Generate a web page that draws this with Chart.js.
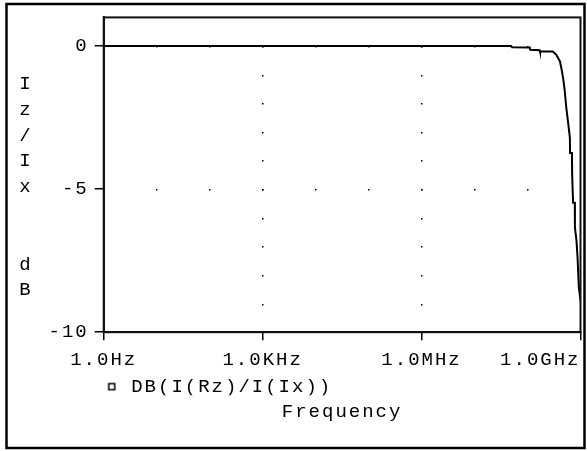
<!DOCTYPE html>
<html>
<head>
<meta charset="utf-8">
<script src="https://cdn.jsdelivr.net/npm/chart.js@4.4.1/dist/chart.umd.min.js"></script>
<style>
  html, body { margin: 0; padding: 0; background: #fff; overflow: hidden; }
  #wrap { position: relative; width: 587px; height: 451px; }
  #yTitle {
    position: absolute; left: 17px; top: 72px; width: 16px;
    font: 19px "Liberation Mono", monospace; line-height: 25.8px;
    text-align: center; white-space: pre; color: #000;
  }
</style>
</head>
<body>
<div id="wrap">
  <canvas id="bodeChart"></canvas>
  <div id="yTitle"></div>
</div>
<script>
// frequency (Hz) and DB(I(Rz)/I(Ix))
const freqHz = [1, 4.9e7, 5.1e7, 1.1e8, 1.12e8, 1.7e8, 1.72e8, 3.0e8, 3.5e8, 4.1e8, 4.4e8,
                4.7e8, 5.0e8, 5.4e8, 5.8e8, 6.3e8, 6.35e8, 6.9e8, 6.95e8, 7.2e8, 7.25e8,
                7.8e8, 7.85e8, 8.4e8, 8.8e8, 9.3e8, 1e9];
const dbValues = [0, 0, -0.04, -0.05, -0.13, -0.15, -0.19, -0.19, -0.31, -0.54, -0.82,
                  -1.12, -1.51, -2.16, -2.63, -3.2, -3.74, -3.74, -4.47, -4.47, -5.48,
                  -5.48, -6.35, -6.8, -7.4, -8.43, -8.9];

const xTickValues = [1, 1e3, 1e6, 1e9];
const xTickLabels = ["1.0Hz", "1.0KHz", "1.0MHz", "1.0GHz      "];
const yTickValues = [0, -5, -10];
const yTitleChars = ["I", "z", "/", "I", "x", "", "", "d", "B"];
const gridDecades = [10, 100, 1e3, 1e4, 1e5, 1e6, 1e7, 1e8];
const gridDb = [0, -1, -2, -3, -4, -5, -6, -7, -8, -9];

const FONT = "Liberation Mono";
document.getElementById("yTitle").textContent = yTitleChars.join("\n");

// little square used as the legend marker
const marker = document.createElement("canvas");
marker.width = 18;
marker.height = 9;
const mctx = marker.getContext("2d");
mctx.strokeStyle = "#000";
mctx.lineWidth = 1.5;
mctx.strokeRect(5, 1.5, 6, 6);

const spacing = {
    id: "spacing",
    beforeLayout(chart) { chart.ctx.letterSpacing = "2px"; },
    beforeDraw(chart) { chart.ctx.letterSpacing = "2px"; }
};

const frame = {
    id: "frame",
    beforeDatasetsDraw(chart) {
        const ctx = chart.ctx;
        const xs = chart.scales.x, ys = chart.scales.y;
        ctx.save();
        ctx.fillStyle = "#000";
        // dotted grid: decades along 0 and -5 dB, dB steps along 1KHz and 1MHz
        [0, -5].forEach(function (v) {
            gridDecades.forEach(function (f) {
                ctx.fillRect(Math.round(xs.getPixelForValue(f)) - 1, Math.round(ys.getPixelForValue(v)), 1.5, 1.5);
            });
        });
        [1e3, 1e6].forEach(function (f) {
            gridDb.forEach(function (v) {
                ctx.fillRect(Math.round(xs.getPixelForValue(f)) - 1, Math.round(ys.getPixelForValue(v)), 1.5, 1.5);
            });
        });
        ctx.restore();
    },
    afterDraw(chart) {
        const ctx = chart.ctx;
        const a = chart.chartArea;
        ctx.save();
        ctx.strokeStyle = "#111";
        ctx.lineWidth = 2;
        ctx.strokeRect(a.left, a.top, a.right - a.left, a.bottom - a.top);
        ctx.lineWidth = 2.5;
        ctx.strokeStyle = "#000";
        ctx.strokeRect(6.5, 4, 578, 444);
        ctx.restore();
    }
};

const points = freqHz.map(function (f, i) { return { x: f, y: dbValues[i] }; });

new Chart(document.getElementById("bodeChart").getContext("2d"), {
    type: "line",
    data: {
        datasets: [{
            label: "DB(I(Rz)/I(Ix))",
            data: points,
            borderColor: "#000",
            borderWidth: 2,
            pointRadius: 0,
            tension: 0,
            fill: false
        }]
    },
    options: {
        responsive: true,
        maintainAspectRatio: false,
        animation: false,
        layout: { padding: { left: 33.7, right: 6.5, top: 16, bottom: 28 } },
        plugins: {
            tooltip: { enabled: false },
            legend: {
                position: "bottom",
                align: "start",
                fullSize: false,
                maxHeight: 18,
                labels: {
                    usePointStyle: true,
                    pointStyle: marker,
                    pointStyleWidth: 18,
                    boxHeight: 9,
                    padding: 0,
                    color: "#000",
                    font: { family: FONT, size: 19 }
                }
            },
            title: {
                display: true,
                position: "bottom",
                fullSize: false,
                text: "Frequency",
                color: "#000",
                font: { family: FONT, size: 19, weight: "normal" },
                padding: { top: 5, bottom: 0 }
            }
        },
        scales: {
            x: {
                type: "logarithmic",
                min: 1,
                max: 1e9,
                afterBuildTicks: function (scale) {
                    scale.ticks = xTickValues.map(function (v) { return { value: v }; });
                },
                afterFit: function (scale) {
                    scale.height = 45;
                    scale.paddingLeft = 0;
                    scale.paddingRight = 0;
                },
                border: { display: true, color: "#111", width: 2 },
                grid: { drawOnChartArea: false, drawTicks: true, tickLength: 8, tickColor: "#000", lineWidth: 1.5 },
                ticks: {
                    autoSkip: false,
                    maxRotation: 0,
                    padding: 8,
                    color: "#000",
                    font: { family: FONT, size: 19 },
                    callback: function (value, index) { return xTickLabels[index]; }
                }
            },
            y: {
                min: -10,
                max: 1,
                afterBuildTicks: function (scale) {
                    scale.ticks = yTickValues.map(function (v) { return { value: v }; });
                },
                afterFit: function (scale) { scale.width = 70; },
                border: { display: true, color: "#111", width: 2 },
                grid: { drawOnChartArea: false, drawTicks: true, tickLength: 9, tickColor: "#000", lineWidth: 1.5 },
                ticks: {
                    padding: 6,
                    color: "#000",
                    font: { family: FONT, size: 19 },
                    callback: function (value) { return String(value); }
                }
            }
        }
    },
    plugins: [spacing, frame]
});
</script>
</body>
</html>
